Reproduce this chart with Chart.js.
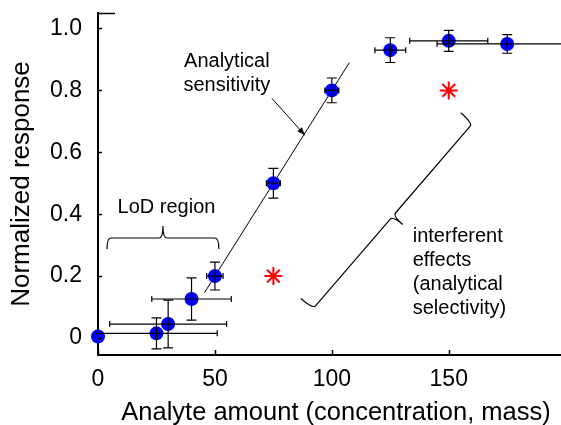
<!DOCTYPE html>
<html>
<head>
<meta charset="utf-8">
<script src="https://cdn.jsdelivr.net/npm/chart.js@4/dist/chart.umd.min.js"></script>
<style>
  html, body { margin: 0; padding: 0; background: #fff; }
  #wrap { width: 561px; height: 425px; }
</style>
</head>
<body>
<div id="wrap"><canvas id="chart"></canvas></div>
<script>
// measured points with error bars
const amounts     = [0, 25, 30, 40, 50, 75, 100, 125, 150, 175];
const responses   = [0.005, 0.015, 0.045, 0.126, 0.2, 0.5, 0.8, 0.93, 0.96, 0.95];
const amountErr   = [0, 26, 25, 17, 3.5, 3, 3, 6.6, 16.7, 30];
const responseErr = [0, 0.05, 0.077, 0.068, 0.045, 0.048, 0.04, 0.04, 0.034, 0.03];

// interferent points (red stars)
const interfAmounts   = [75, 150];
const interfResponses = [0.2, 0.8];

// sensitivity (slope) line
const slopeX = [45.5, 107.5];
const slopeY = [0.146, 0.89];

const xTicks = [0, 50, 100, 150];
const yTicks = [0, 0.2, 0.4, 0.6, 0.8, 1.0];
const yTickLabels = ["0", "0.2", "0.4", "0.6", "0.8", "1.0"];
const xTitle = "Analyte amount (concentration, mass)";
const yTitle = "Normalized response";

// annotations, in data units
const notes = [
  { lines: ["Analytical", "sensitivity"], x: 55.1, y: 0.877, align: "center" },
  { lines: ["LoD region"], x: 29.3, y: 0.403, align: "center" },
  { lines: ["interferent", "effects", "(analytical", "selectivity)"], x: 134.6, y: 0.31, align: "left" },
];
const braces = [
  { from: [3.85, 0.323], to: [51.7, 0.323], side: 1, hook: 11, tip: 12 },
  { from: [91.9, 0.094], to: [160.3, 0.694], side: -1, hook: 16, tip: 13 },
];
const arrow = { from: [74.4, 0.774], to: [88.5, 0.655] };

const FONT = "'Liberation Sans', Arial, sans-serif";

function drawBrace(ctx, p1, p2, side, hook, tip) {
  const dx = p2.x - p1.x, dy = p2.y - p1.y, len = Math.hypot(dx, dy);
  const ux = dx / len, uy = dy / len;
  const nx = uy * side, ny = -ux * side;
  const r = 4;
  const mx = (p1.x + p2.x) / 2, my = (p1.y + p2.y) / 2;
  ctx.beginPath();
  ctx.moveTo(p1.x - nx * hook, p1.y - ny * hook);
  ctx.quadraticCurveTo(p1.x, p1.y, p1.x + ux * r, p1.y + uy * r);
  ctx.lineTo(mx - ux * r, my - uy * r);
  ctx.quadraticCurveTo(mx, my, mx + nx * tip, my + ny * tip);
  ctx.quadraticCurveTo(mx, my, mx + ux * r, my + uy * r);
  ctx.lineTo(p2.x - ux * r, p2.y - uy * r);
  ctx.quadraticCurveTo(p2.x, p2.y, p2.x - nx * hook, p2.y - ny * hook);
  ctx.stroke();
}

const extrasPlugin = {
  id: "extras",
  afterDraw(chart) {
    const { ctx, chartArea: area } = chart;
    const xs = chart.scales.x, ys = chart.scales.y;
    const pt = (a) => ({ x: xs.getPixelForValue(a[0]), y: ys.getPixelForValue(a[1]) });
    ctx.save();
    ctx.strokeStyle = "#000";
    ctx.fillStyle = "#000";

    // inward tick marks + top stub
    ctx.lineWidth = 1.5;
    ctx.beginPath();
    xTicks.forEach(v => {
      const px = Math.round(xs.getPixelForValue(v)) + 0.5;
      ctx.moveTo(px, area.bottom);
      ctx.lineTo(px, area.bottom - 5);
    });
    yTicks.forEach(v => {
      const py = Math.round(ys.getPixelForValue(v)) + 0.5;
      ctx.moveTo(area.left, py);
      ctx.lineTo(area.left + 4, py);
    });
    ctx.moveTo(area.left, area.top + 0.5);
    ctx.lineTo(area.left + 17, area.top + 0.5);
    ctx.stroke();

    // error bars
    ctx.lineWidth = 1.2;
    amounts.forEach((a, i) => {
      const px = xs.getPixelForValue(a), py = ys.getPixelForValue(responses[i]);
      ctx.beginPath();
      if (amountErr[i]) {
        const x1 = xs.getPixelForValue(a - amountErr[i]);
        const x2 = xs.getPixelForValue(a + amountErr[i]);
        ctx.moveTo(x1, py); ctx.lineTo(x2, py);
        ctx.moveTo(x1, py - 3); ctx.lineTo(x1, py + 3);
        ctx.moveTo(x2, py - 3); ctx.lineTo(x2, py + 3);
      }
      if (responseErr[i]) {
        const y1 = ys.getPixelForValue(responses[i] - responseErr[i]);
        const y2 = ys.getPixelForValue(responses[i] + responseErr[i]);
        ctx.moveTo(px, y1); ctx.lineTo(px, y2);
        ctx.moveTo(px - 5, y1); ctx.lineTo(px + 5, y1);
        ctx.moveTo(px - 5, y2); ctx.lineTo(px + 5, y2);
      }
      ctx.stroke();
    });

    // braces
    ctx.lineWidth = 1.2;
    braces.forEach(b => drawBrace(ctx, pt(b.from), pt(b.to), b.side, b.hook, b.tip));

    // arrow
    const a0 = pt(arrow.from), a1 = pt(arrow.to);
    ctx.lineWidth = 1;
    ctx.beginPath();
    ctx.moveTo(a0.x, a0.y); ctx.lineTo(a1.x, a1.y);
    ctx.stroke();
    const ang = Math.atan2(a1.y - a0.y, a1.x - a0.x);
    ctx.beginPath();
    ctx.moveTo(a1.x, a1.y);
    ctx.lineTo(a1.x - 8 * Math.cos(ang) + 3 * Math.sin(ang), a1.y - 8 * Math.sin(ang) - 3 * Math.cos(ang));
    ctx.lineTo(a1.x - 8 * Math.cos(ang) - 3 * Math.sin(ang), a1.y - 8 * Math.sin(ang) + 3 * Math.cos(ang));
    ctx.closePath();
    ctx.fill();

    // text notes
    ctx.font = "20px " + FONT;
    ctx.textBaseline = "alphabetic";
    notes.forEach(n => {
      const p = pt([n.x, n.y]);
      ctx.textAlign = n.align;
      n.lines.forEach((line, k) => ctx.fillText(line, p.x, p.y + k * 24));
    });

    // x axis title, sits a little right of the plot centre in the original
    ctx.font = "25.5px " + FONT;
    ctx.textAlign = "center";
    ctx.fillText(xTitle, (area.left + area.right) / 2 + 6.5, chart.height - 5);
    ctx.restore();
  }
};

new Chart(document.getElementById("chart"), {
  type: "scatter",
  data: {
    datasets: [
      {
        label: "slope",
        type: "line",
        data: slopeX.map((x, i) => ({ x, y: slopeY[i] })),
        borderColor: "#000",
        borderWidth: 1,
        pointRadius: 0,
        fill: false,
        order: 3,
      },
      {
        label: "response",
        data: amounts.map((x, i) => ({ x, y: responses[i] })),
        pointStyle: "circle",
        pointRadius: 7,
        backgroundColor: "#0000ff",
        borderWidth: 0,
        clip: false,
        order: 2,
      },
      {
        label: "interferent",
        data: interfAmounts.map((x, i) => ({ x, y: interfResponses[i] })),
        pointStyle: "star",
        pointRadius: 9,
        borderColor: "#ff0000",
        borderWidth: 2,
        clip: false,
        order: 1,
      },
    ],
  },
  options: {
    responsive: true,
    maintainAspectRatio: false,
    animation: false,
    layout: { autoPadding: false, padding: { top: 13, right: 0, bottom: 0, left: 0 } },
    plugins: { legend: { display: false }, tooltip: { enabled: false } },
    scales: {
      x: {
        type: "linear",
        min: 0,
        max: 198,
        afterBuildTicks: s => { s.ticks = xTicks.map(v => ({ value: v })); },
        afterFit: s => { s.height = 70; s.paddingLeft = 0; s.paddingRight = 0; },
        grid: { display: false, drawTicks: false },
        border: { display: true, color: "#000", width: 2 },
        ticks: { color: "#000", font: { family: FONT, size: 23 }, padding: 11, maxRotation: 0 },
        title: { display: false },
      },
      y: {
        type: "linear",
        min: -0.055,
        max: 1.05,
        afterBuildTicks: s => { s.ticks = yTicks.map(v => ({ value: v })); },
        afterFit: s => { s.width = 98; s.paddingTop = 0; s.paddingBottom = 0; },
        grid: { display: false, drawTicks: false },
        border: { display: true, color: "#000", width: 2 },
        ticks: {
          color: "#000",
          font: { family: FONT, size: 23 },
          padding: 16,
          callback: (v, i) => yTickLabels[i],
        },
        title: {
          display: true,
          text: yTitle,
          color: "#000",
          font: { family: FONT, size: 26, lineHeight: 1.1 },
          padding: { top: 8, bottom: 0 },
        },
      },
    },
  },
  plugins: [extrasPlugin],
});
</script>
</body>
</html>
